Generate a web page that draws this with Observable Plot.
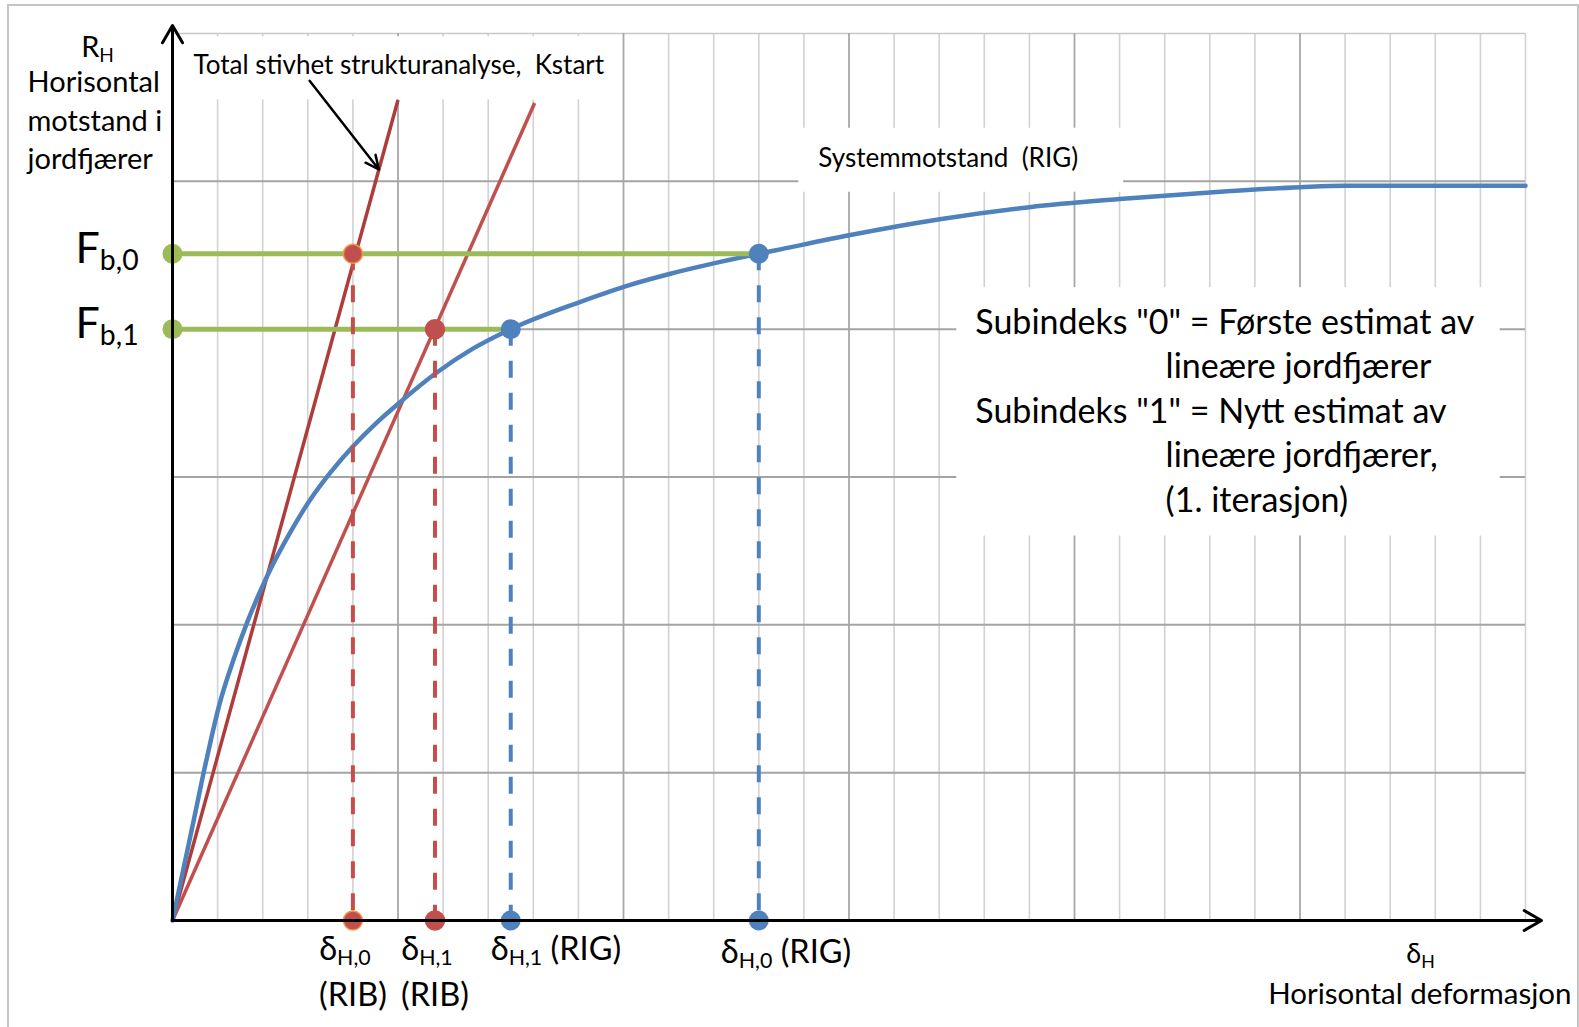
<!DOCTYPE html>
<html>
<head>
<meta charset="utf-8">
<script src="https://cdn.jsdelivr.net/npm/d3@7"></script>
<script src="https://cdn.jsdelivr.net/npm/@observablehq/plot@0.6"></script>
<style>
html, body { margin: 0; padding: 0; background: #fff; overflow: hidden; }
#frame { position: absolute; left: 7px; top: 4px; width: 1572px; height: 1100px; border: 2px solid #c4c4c4; box-sizing: border-box; }
#chart { position: absolute; left: 0; top: 0; }
</style>
</head>
<body>
<div id="frame"></div>
<div id="chart"></div>
<script>
// ---------- data (x: deformation in grid units, y: resistance in grid units) ----------
// Systemmotstand (RIG) curve
const rigDeform = [0, 0.25, 0.5, 0.69, 0.85, 1.03, 1.36, 1.66, 2.1, 2.62, 3.06, 3.5, 4.01, 4.5, 5.06, 5.83, 6.67, 7.5, 9.0, 10.04, 11.04, 12.0, 13.0, 13.48, 15.0, 17.05, 19.0, 21.0, 23.0, 25.0, 26.0, 30.0];
const rigResist = [0, 0.36, 0.72, 1.0, 1.22, 1.45, 1.77, 2.02, 2.33, 2.63, 2.85, 3.03, 3.21, 3.36, 3.51, 3.7, 3.87, 4.0, 4.18, 4.29, 4.375, 4.445, 4.51, 4.54, 4.635, 4.745, 4.825, 4.88, 4.925, 4.96, 4.97, 4.97];

// linear stiffness lines from the origin (iteration 0 = Kstart, iteration 1)
const iterations = [0, 1];
const kEndDeform = [5.0, 8.03];
const kEndResist = [5.55, 5.53];

// estimates per iteration
const Fb = [4.51, 4.0];         // F_b,0 , F_b,1
const deltaRIB = [4.0, 5.82];   // δ_H,0 (RIB), δ_H,1 (RIB)
const deltaRIG = [13.0, 7.5];   // δ_H,0 (RIG), δ_H,1 (RIG)

// grid ticks
const xTicks = d3.range(0, 31);
const xMajorTicks = [5, 10, 15, 20, 25];
const yTicks = [1, 2, 3, 4, 5, 6];
const yMajorTicks = [1, 2, 3, 4, 5];

// texts
const yLabelSymbol = "R_{H}";
const yLabel = "Horisontal\nmotstand i\njordfjærer";
const xLabelSymbol = "δ_{H}";
const xLabel = "Horisontal deformasjon";
const kLabel = "Total stivhet strukturanalyse,  Kstart";
const rigLabel = "Systemmotstand  (RIG)";
const noteLines = ['Subindeks "0" = Første estimat av', "lineære jordfjærer", 'Subindeks "1" = Nytt estimat av', "lineære jordfjærer,", "(1. iterasjon)"];
const noteIndent = [false, true, false, true, true];

// ---------- styling ----------
const BLUE = "#4F81BD", RED = "#C0504D", RED_DARK = "#AD3D3A", GREEN = "#9BBB59", ORANGE = "#F79646";
const FONT = "Lato, 'Open Sans', sans-serif";

const rig = rigDeform.map((d, i) => ({d, r: rigResist[i]}));
const minorX = xTicks.filter(t => !xMajorTicks.includes(t));
const minorY = yTicks.filter(t => !yMajorTicks.includes(t));
const notes = noteLines.map((t, i) => ({t, i, indent: noteIndent[i]}));

const svg = Plot.plot({
  width: 1579, height: 1027,
  marginLeft: 172, marginRight: 54, marginTop: 33, marginBottom: 107,
  x: {domain: [0, 30], axis: null},
  y: {domain: [0, 6], axis: null},
  style: {fontFamily: FONT, background: "transparent", overflow: "visible", color: "#000"},
  marks: [
    // grid
    Plot.ruleX(minorX, {stroke: "#d2d2d2", strokeWidth: 1.6}),
    Plot.ruleY(minorY, {stroke: "#c8c8c8", strokeWidth: 1.6}),
    Plot.ruleX(xMajorTicks, {stroke: "#a8a8a8", strokeWidth: 1.8}),
    Plot.ruleY(yMajorTicks, {stroke: "#a4a4a4", strokeWidth: 2}),

    // stiffness lines
    Plot.link([0], {x1: 0, y1: 0, x2: i => kEndDeform[i], y2: i => kEndResist[i], stroke: RED_DARK, strokeWidth: 3.5}),
    Plot.link([1], {x1: 0, y1: 0, x2: i => kEndDeform[i], y2: i => kEndResist[i], stroke: RED, strokeWidth: 3.5}),

    // system resistance curve
    Plot.line(rig, {x: "d", y: "r", stroke: BLUE, strokeWidth: 4.5, curve: "monotone-x"}),

    // force levels
    Plot.ruleY(iterations, {y: i => Fb[i], x1: 0, x2: i => deltaRIG[i], stroke: GREEN, strokeWidth: 5}),

    // dashed verticals
    Plot.ruleX(iterations, {x: i => deltaRIB[i], y1: i => Fb[i], y2: 0, stroke: RED, strokeWidth: 4, strokeDasharray: "17,15"}),
    Plot.ruleX(iterations, {x: i => deltaRIG[i], y1: i => Fb[i], y2: 0, stroke: BLUE, strokeWidth: 4, strokeDasharray: "17,15"}),

    // dots
    Plot.dot(iterations, {x: 0, y: i => Fb[i], r: 10, fill: GREEN}),
    Plot.dot(iterations, {x: i => deltaRIB[i], y: i => Fb[i], r: 9.5, fill: RED, stroke: i => i === 0 ? ORANGE : RED, strokeWidth: 1.5}),
    Plot.dot(iterations, {x: i => deltaRIB[i], y: 0, r: 9.5, fill: RED, stroke: i => i === 0 ? ORANGE : RED, strokeWidth: 1.5}),
    Plot.dot(iterations, {x: i => deltaRIG[i], y: i => Fb[i], r: 10, fill: BLUE}),
    Plot.dot(iterations, {x: i => deltaRIG[i], y: 0, r: 10, fill: BLUE}),

    // axes with arrow heads
    Plot.arrow([0], {x1: 0, y1: 0, x2: 0, y2: 6, insetEnd: -8, stroke: "#000", strokeWidth: 3, headLength: 10, headAngle: 60}),
    Plot.arrow([0], {x1: 0, y1: 0, x2: 30, y2: 0, insetEnd: -16, stroke: "#000", strokeWidth: 3, headLength: 10, headAngle: 60}),

    // callout arrow to the Kstart line
    Plot.arrow([0], {x1: 3.04, y1: 5.68, x2: 5.08 * kEndDeform[0] / kEndResist[0], y2: 5.08, stroke: "#000", strokeWidth: 2.5, headLength: 9, headAngle: 50}),

    // y axis labels
    Plot.text([yLabelSymbol], {frameAnchor: "top-left", dx: -75, dy: 14, textAnchor: "middle", lineAnchor: "middle", fontSize: 29}),
    Plot.text([yLabel], {frameAnchor: "top-left", dx: -145, dy: 85, textAnchor: "start", lineAnchor: "middle", fontSize: 29, lineHeight: 1.32}),
    Plot.text(iterations, {x: 0, y: i => Fb[i], text: i => `F_{b,${i}}`, dx: -97, dy: -5, textAnchor: "start", lineAnchor: "middle", fontSize: 43}),

    // x axis labels
    Plot.text(iterations, {x: i => deltaRIB[i], y: 0, text: i => `δ_{H,${i}}`, dx: -8, dy: 29, textAnchor: "middle", lineAnchor: "middle", fontSize: 32.5}),
    Plot.text(iterations, {x: i => deltaRIB[i], y: 0, text: () => "(RIB)", dy: 75, textAnchor: "middle", lineAnchor: "middle", fontSize: 32.5}),
    Plot.text([1], {x: i => deltaRIG[i], y: 0, text: i => `δ_{H,${i}} (RIG)`, dx: -20, dy: 29, textAnchor: "start", lineAnchor: "middle", fontSize: 32.5}),
    Plot.text([0], {x: i => deltaRIG[i], y: 0, text: i => `δ_{H,${i}} (RIG)`, dx: -38, dy: 32, textAnchor: "start", lineAnchor: "middle", fontSize: 32.5}),
    Plot.text([xLabelSymbol], {frameAnchor: "bottom-right", dx: -105, dy: 34, textAnchor: "middle", lineAnchor: "middle", fontSize: 27}),
    Plot.text([xLabel], {frameAnchor: "bottom-right", dx: 46, dy: 74, textAnchor: "end", lineAnchor: "middle", fontSize: 29.5}),

    // callouts
    Plot.text([kLabel], {frameAnchor: "top-left", dx: 21, dy: 32.5, textAnchor: "start", lineAnchor: "middle", fontSize: 26}),
    Plot.text([rigLabel], {x: 14.32, y: 5.155, textAnchor: "start", lineAnchor: "middle", fontSize: 26}),
    Plot.text(notes, {x: d => d.indent ? 22.02 : 17.8, y: d => 4.04 - 0.3 * d.i, text: "t", textAnchor: "start", lineAnchor: "middle", fontSize: 34})
  ]
});

document.getElementById("chart").append(svg);

// subscripts: "X_{sub}" -> tspans
const NS = "http://www.w3.org/2000/svg";
svg.querySelectorAll("text").forEach(t => {
  const s = t.textContent;
  if (!s.includes("_{")) return;
  const fs = parseFloat(getComputedStyle(t).fontSize);
  const shift = 0.17 * fs;
  while (t.firstChild) t.removeChild(t.firstChild);
  let down = false;
  for (const part of s.split(/(_\{[^}]*\})/)) {
    if (!part) continue;
    const ts = document.createElementNS(NS, "tspan");
    if (part.startsWith("_{")) {
      ts.textContent = part.slice(2, -1);
      ts.setAttribute("font-size", (fs * 0.66).toFixed(1));
      if (!down) { ts.setAttribute("dy", shift.toFixed(1)); down = true; }
    } else {
      ts.textContent = part;
      if (down) { ts.setAttribute("dy", (-shift).toFixed(1)); down = false; }
    }
    t.appendChild(ts);
  }
});

// white backgrounds behind callouts (computed from the rendered text)
const groups = [...svg.children].filter(n => n.tagName.toLowerCase() === "g");
const anchor = groups[3]; // last grid group
const groupOf = txt => { const t = [...svg.querySelectorAll("text")].find(e => e.textContent === txt); return t ? t.parentNode : null; };
const sr = svg.getBoundingClientRect();
[[kLabel, [12, 7, 19, 19]], [rigLabel, [13, 45, 19, 20]], [noteLines[0], [13, 25, 17, 19]]].forEach(([txt, pad]) => {
  const g = groupOf(txt);
  if (!g || !anchor) return;
  const b = g.getBoundingClientRect();
  const r = document.createElementNS(NS, "rect");
  r.setAttribute("x", b.left - sr.left - pad[3]);
  r.setAttribute("y", b.top - sr.top - pad[0]);
  r.setAttribute("width", b.width + pad[1] + pad[3]);
  r.setAttribute("height", b.height + pad[0] + pad[2]);
  r.setAttribute("fill", "#fff");
  anchor.after(r);
});
</script>
</body>
</html>
